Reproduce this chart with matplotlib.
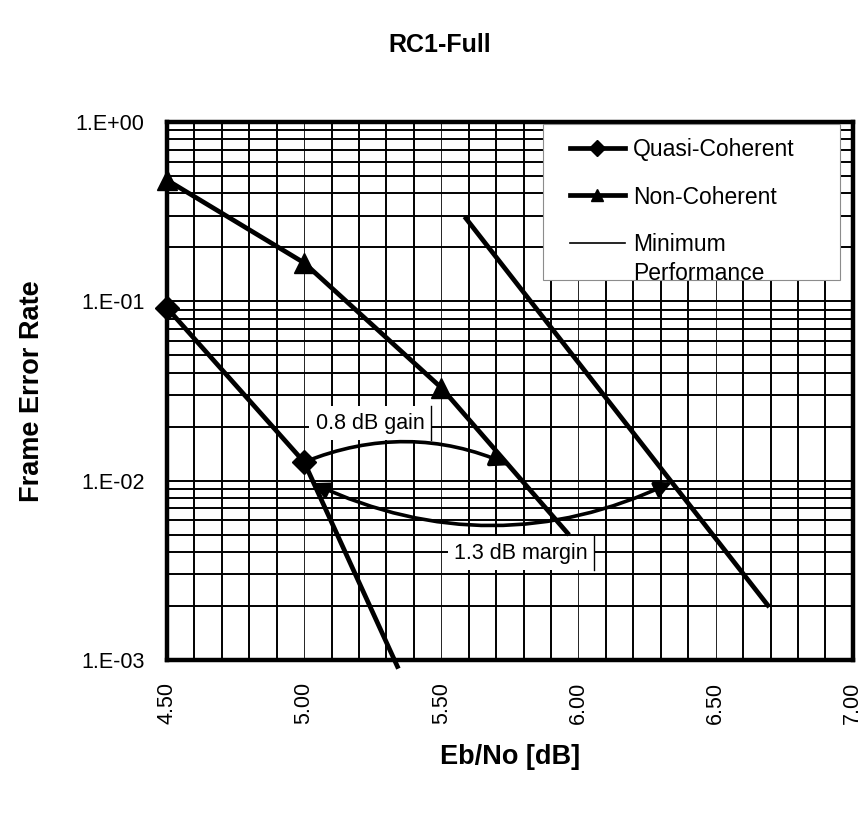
#!/usr/bin/env python
"""
RC1-Full frame error rate vs Eb/No
"""

import numpy as np
import matplotlib
matplotlib.use('Agg')
import matplotlib.pyplot as plt
import matplotlib.patches as mpa
import matplotlib.lines as mlines
from matplotlib.ticker import FixedLocator, FuncFormatter, LogLocator, NullFormatter

# data
qc_x = [4.5, 5.0, 5.34]
qc_y = [0.092, 0.0127, 0.00092]

nc_x = [4.5, 5.0, 5.5, 5.96]
nc_y = [0.475, 0.164, 0.033, 0.0051]

mp_x = [5.59, 6.34, 6.69]
mp_y = [0.29, 0.0098, 0.00202]

x_ticks = [4.5, 5.0, 5.5, 6.0, 6.5, 7.0]
y_ticks = [1e-3, 1e-2, 1e-1, 1e0]

# annotation anchors (data coords)
gain_from, gain_to = (5.0, 0.0127), (5.75, 0.0122)
margin_from, margin_to = (5.03, 0.0097), (6.34, 0.0098)
gain_text = (5.24, 0.0209)
margin_text = (5.79, 0.00394)

params = {
    'font.family': ['Liberation Sans', 'DejaVu Sans'],
    'font.size': 15.5,
    'xtick.labelsize': 15.5,
    'ytick.labelsize': 15.5,
}
matplotlib.rcParams.update(params)

fig = plt.figure(figsize=(8.66, 8.15), dpi=100)
ax = fig.add_axes([0.1928, 0.1902, 0.792, 0.660])

ax.set_yscale('log')
ax.set_xlim(4.5, 7.0)
ax.set_ylim(1e-3, 1.0)

ax.xaxis.set_major_locator(FixedLocator(x_ticks))
ax.xaxis.set_minor_locator(FixedLocator(np.arange(4.6, 7.0, 0.1)))
ax.xaxis.set_major_formatter(FuncFormatter(lambda v, p: '%.2f' % v))
ax.yaxis.set_major_locator(FixedLocator(y_ticks))
ax.yaxis.set_minor_locator(LogLocator(base=10, subs=np.arange(2, 10)))
ax.yaxis.set_minor_formatter(NullFormatter())
ax.yaxis.set_major_formatter(
    FuncFormatter(lambda v, p: '1.E%+03d' % int(round(np.log10(v)))))

ax.tick_params(which='both', length=0)
ax.tick_params(axis='x', pad=16, labelrotation=90)
ax.tick_params(axis='y', pad=16)

# grid
ax.grid(which='minor', axis='both', color='k', lw=1.4)
ax.grid(which='major', axis='y', color='k', lw=1.4)
ax.grid(which='major', axis='x', color='k', lw=0.6)
ax.set_axisbelow(True)
for s in ax.spines.values():
    s.set_linewidth(3.2)

# curves
ax.plot(qc_x, qc_y, 'k-', lw=3.4, marker='D', ms=12, markevery=[0, 1],
        clip_on=False, zorder=5)
ax.plot(nc_x, nc_y, 'k-', lw=3.4, marker='^', ms=14, markevery=[0, 1, 2],
        clip_on=False, zorder=5)
ax.plot(mp_x, mp_y, 'k-', lw=3.4, zorder=5)

# annotations
kw = dict(color='k', lw=2.6, mutation_scale=16, zorder=4,
          shrinkA=0, shrinkB=0)
ax.add_patch(mpa.FancyArrowPatch(
    gain_from, gain_to, connectionstyle='arc3,rad=-0.21',
    arrowstyle='-|>,head_length=0.7,head_width=0.35', **kw))
ax.add_patch(mpa.FancyArrowPatch(
    margin_from, margin_to, connectionstyle='arc3,rad=0.234',
    arrowstyle='<|-|>,head_length=0.6,head_width=0.3', **kw))

box = dict(boxstyle='square,pad=0.3', fc='white', ec='none')
t_gain = ax.text(*gain_text, '0.8 dB gain', ha='center', va='center',
                 bbox=box, zorder=3)
t_margin = ax.text(*margin_text, '1.3 dB margin', ha='center', va='center',
                   bbox=box, zorder=3)

# legend (drawn by hand, clipped like the original)
leg_box = mpa.Rectangle((0.548, 0.706), 0.433, 0.290, transform=ax.transAxes,
                        fc='white', ec='0.55', lw=0.8, zorder=6)
ax.add_patch(leg_box)
rows = [('Quasi-Coherent', 'D', 8, 3.4, 0.952),
        ('Non-Coherent', '^', 9, 3.4, 0.864),
        ('Minimum\nPerformance', None, 0, 1.2, 0.775)]
for label, mk, ms, lw, yy in rows:
    ax.add_line(mlines.Line2D([0.587, 0.668], [yy, yy], color='k', lw=lw,
                              transform=ax.transAxes, zorder=7))
    if mk:
        ax.add_line(mlines.Line2D([0.627], [yy], color='k', marker=mk, ms=ms,
                                  ls='none', transform=ax.transAxes, zorder=7))
    t = ax.text(0.679, yy + 0.018, label, transform=ax.transAxes, ha='left',
                va='top', fontsize=16.5, linespacing=1.3, zorder=8)
    t.set_clip_path(leg_box)

ax.set_xlabel('Eb/No [dB]', fontsize=19.5, fontweight='bold', labelpad=14)
ax.set_ylabel('Frame Error Rate', fontsize=19.5, fontweight='bold',
              labelpad=22)
fig.text(0.508, 0.945, 'RC1-Full', ha='center', va='center', fontsize=18,
         fontweight='bold')

# right-hand border of the text boxes, as in the original
fig.canvas.draw()
for t in [t_gain, t_margin]:
    bb = t.get_bbox_patch().get_window_extent()
    fig.add_artist(mlines.Line2D([bb.x1, bb.x1], [bb.y0, bb.y1], color='k',
                                 lw=1.0, transform=None, zorder=9))

plt.savefig('out.png', dpi=100)
